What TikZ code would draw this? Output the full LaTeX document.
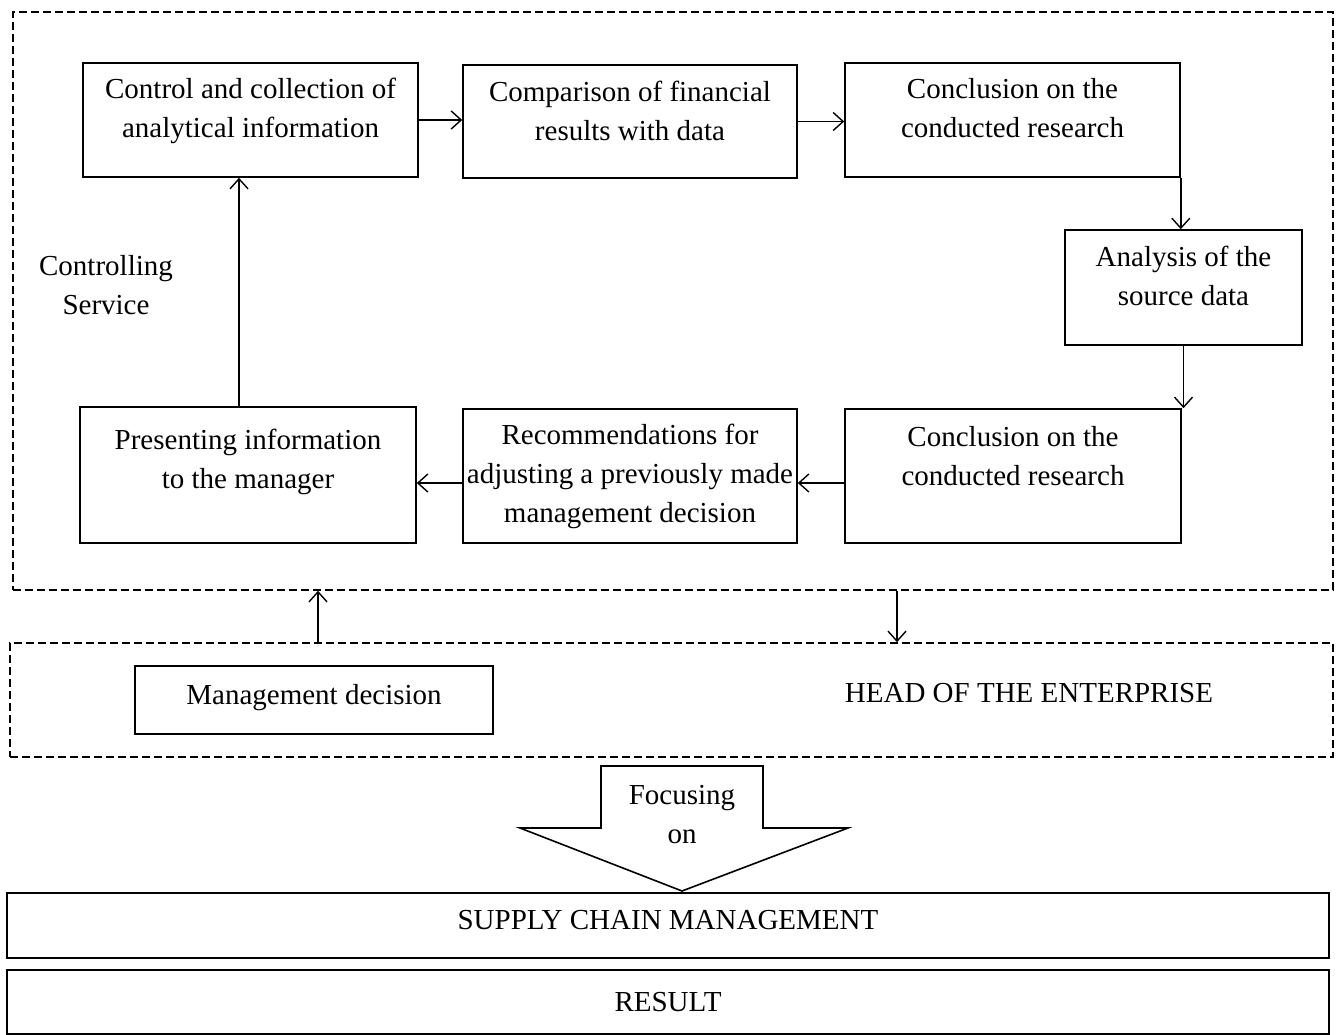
\documentclass[tikz,border=0pt]{standalone}
\usepackage{fontspec}
\setmainfont{Liberation Serif}
\usetikzlibrary{arrows.meta}
\begin{document}
\begin{tikzpicture}[x=1pt,y=-1pt,
  every node/.style={font=\fontsize{29}{39}\selectfont},
  box/.style={draw, line width=1.6pt, rectangle, inner sep=0pt, align=center},
  dbox/.style={draw, line width=1.6pt, rectangle, inner sep=0pt, dash pattern=on 8pt off 4pt},
  flow/.style={line width=1.4pt, -{Straight Barb[length=10pt,width=18pt,line width=1.4pt]}},
  txt/.style={inner sep=0pt, align=center}]
\useasboundingbox (0,0) rectangle (1340,1035);

% outer frame of the controlling service and the head of the enterprise
\node[dbox, minimum width=1320pt, minimum height=578pt] (ctrl) at (673,301) {};
\node[dbox, minimum width=1323pt, minimum height=114pt] (head) at (671.5,700) {};

\node[txt] (cs) at (106,285) {Controlling\\Service};

% process steps
\node[box, minimum width=335pt, minimum height=114pt, text depth=24pt] (b1) at (250.5,120) {Control and collection of\\analytical information};
\node[box, minimum width=334pt, minimum height=113pt, text depth=22pt] (b2) at (630,121.5) {Comparison of financial\\results with data};
\node[box, minimum width=335pt, minimum height=114pt, text depth=24pt] (b3) at (1012.5,120) {Conclusion on the\\conducted research};
\node[box, minimum width=237pt, minimum height=115pt, text depth=24pt] (b4) at (1183.5,287.5) {Analysis of the\\source data};
\node[box, minimum width=336pt, minimum height=134pt, text depth=40pt] (b5) at (1013,476) {Conclusion on the\\conducted research};
\node[box, minimum width=334pt, minimum height=134pt] (b6) at (630,476) {Recommendations for\\adjusting a previously made\\management decision};
\node[box, minimum width=336pt, minimum height=136pt, text depth=32pt] (b7) at (248,475) {Presenting information\\to the manager};

\draw[flow] (b1.east) -- (b1.east -| b2.west);
\draw[flow] (b2.east) -- (b2.east -| b3.west);
\draw[flow] (b3.south east) -- (b3.south east |- b4.north);
\draw[flow] (b4.south) -- (b4.south |- b5.north);
\draw[flow] ([yshift=-7pt]b5.west) -- ([yshift=-7pt]b5.west -| b6.east);
\draw[flow] ([yshift=-7pt]b6.west) -- ([yshift=-7pt]b6.west -| b7.east);
\draw[flow] ([xshift=-9pt]b7.north) -- ([xshift=-9pt]b7.north |- b1.south);

% head of the enterprise
\node[box, minimum width=358pt, minimum height=68pt, text depth=12pt] (md) at (314,700) {Management decision};
\node[txt] (he) at (1029,693) {HEAD OF THE ENTERPRISE};

\coordinate (upx) at (318,0);
\coordinate (dnx) at (897,0);
\draw[flow] (upx |- head.north) -- (upx |- ctrl.south);
\draw[flow] (dnx |- ctrl.south) -- (dnx |- head.north);

% block arrow
\draw[line width=1.6pt, line join=miter] (601,766) -- (763,766) -- (763,828) -- (848,828) -- (682,891) -- (520,828) -- (601,828) -- cycle;
\node[txt] (foc) at (682,815) {Focusing\\on};

% bottom bands
\node[box, minimum width=1322pt, minimum height=65pt, text depth=11pt] (scm) at (668,925.5) {SUPPLY CHAIN MANAGEMENT};
\node[box, minimum width=1322pt, minimum height=64pt] (res) at (668,1002) {RESULT};
\end{tikzpicture}
\end{document}
